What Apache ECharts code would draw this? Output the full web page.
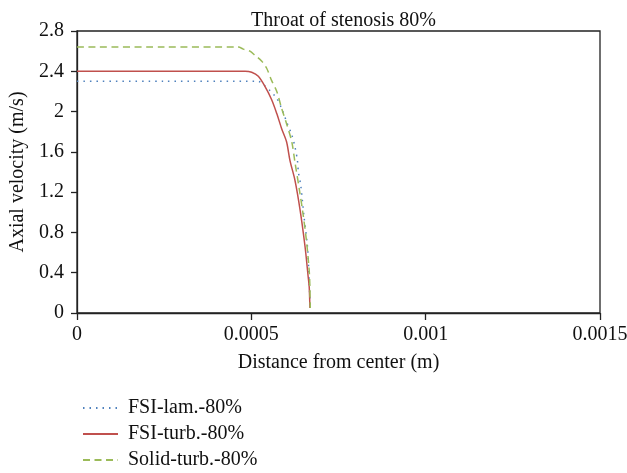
<!DOCTYPE html>
<html>
<head>
<meta charset="utf-8">
<script src="https://cdn.jsdelivr.net/npm/echarts@6/dist/echarts.min.js"></script>
<style>html,body{margin:0;padding:0;background:#fff}#c{width:627px;height:473px}</style>
</head>
<body>
<div id="c"></div>
<script>
var titleText = 'Throat of stenosis 80%';
var xAxisName = 'Distance from center (m)';
var yAxisName = 'Axial velocity (m/s)';
var seriesNames = ['FSI-lam.-80%', 'FSI-turb.-80%', 'Solid-turb.-80%'];

var lamX = [0, 0.00025, 0.00052, 0.000534, 0.000553, 0.000573, 0.000587, 0.000601, 0.000616, 0.000625, 0.000632, 0.000635, 0.000642, 0.000651, 0.000661, 0.000665, 0.000668, 0.000669];
var lamY = [2.30, 2.30, 2.30, 2.27, 2.21, 2.13, 2.03, 1.90, 1.77, 1.65, 1.52, 1.40, 1.26, 0.96, 0.66, 0.40, 0.13, 0.04];

var turbX = [0, 0.00025, 0.000482, 0.000501, 0.00052, 0.000539, 0.000558, 0.000573, 0.000587, 0.000601, 0.000611, 0.000625, 0.00064, 0.000654, 0.000663, 0.000666, 0.000668];
var turbY = [2.40, 2.40, 2.40, 2.39, 2.35, 2.25, 2.12, 1.98, 1.83, 1.70, 1.51, 1.32, 1.02, 0.66, 0.36, 0.26, 0.05];

var solidX = [0, 0.00025, 0.000463, 0.000477, 0.000496, 0.00051, 0.00053, 0.000544, 0.000558, 0.000573, 0.000587, 0.000601, 0.000616, 0.000625, 0.000638, 0.000648, 0.000658, 0.000666, 0.000668, 0.000669];
var solidY = [2.64, 2.64, 2.64, 2.62, 2.60, 2.56, 2.50, 2.43, 2.31, 2.20, 2.03, 1.88, 1.70, 1.50, 1.22, 0.99, 0.72, 0.42, 0.25, 0.05];

function pairs(xs, ys) { return xs.map(function (x, i) { return [x, ys[i]]; }); }

var font = 'Liberation Serif';
var fs = 20;
var chart = echarts.init(document.getElementById('c'));
chart.setOption({
  animation: false,
  backgroundColor: '#fff',
  title: {
    text: titleText, left: 338.5, textAlign: 'center', top: 6,
    textStyle: { fontFamily: font, fontSize: fs, fontWeight: 'normal', color: '#111' }
  },
  grid: { left: 77, right: 27, top: 31, bottom: 160, show: true, borderColor: '#222', borderWidth: 1.3,
    containLabel: false, outerBoundsMode: 'none' },
  legend: {
    orient: 'vertical', left: 82, top: 398, height: 90, itemWidth: 35, itemHeight: 14, itemGap: 6,
    padding: 0,
    itemStyle: { opacity: 0 },
    textStyle: { fontFamily: font, fontSize: fs, color: '#111', padding: [0, 0, 0, 5] },
    data: seriesNames
  },
  xAxis: {
    type: 'value', min: 0, max: 0.0015, interval: 0.0005,
    name: xAxisName, nameLocation: 'middle', nameGap: 40,
    nameTextStyle: { fontFamily: font, fontSize: fs, color: '#111' },
    axisLine: { show: true, lineStyle: { color: '#222', width: 1.3 } },
    axisTick: { show: true, inside: false, length: 7, lineStyle: { color: '#222', width: 1.3 } },
    axisLabel: { fontFamily: font, fontSize: fs, color: '#111', margin: 12,
      formatter: function (v) { return String(+v.toFixed(6)); } },
    splitLine: { show: false }
  },
  yAxis: {
    type: 'value', min: 0, max: 2.8, interval: 0.4,
    name: yAxisName, nameLocation: 'middle', nameGap: 48,
    nameTextStyle: { fontFamily: font, fontSize: fs, color: '#111' },
    axisLine: { show: true, lineStyle: { color: '#222', width: 1.3 } },
    axisTick: { show: true, inside: false, length: 6, lineStyle: { color: '#222', width: 1.3 } },
    axisLabel: { fontFamily: font, fontSize: fs, color: '#111', margin: 13,
      formatter: function (v) { return String(+v.toFixed(2)); } },
    splitLine: { show: false }
  },
  series: [
    { name: seriesNames[0], type: 'line', data: pairs(lamX, lamY), symbol: 'none', smooth: 0.3,
      lineStyle: { color: '#4f81bd', width: 1.5, type: [1.5, 5] }, itemStyle: { color: '#4f81bd' } },
    { name: seriesNames[1], type: 'line', data: pairs(turbX, turbY), symbol: 'none', smooth: 0.3,
      lineStyle: { color: '#c0504d', width: 1.5, type: 'solid' }, itemStyle: { color: '#c0504d' } },
    { name: seriesNames[2], type: 'line', data: pairs(solidX, solidY), symbol: 'none', smooth: 0.3,
      lineStyle: { color: '#9bbb59', width: 1.5, type: [7, 4.5] }, itemStyle: { color: '#9bbb59' } }
  ]
});
</script>
</body>
</html>
